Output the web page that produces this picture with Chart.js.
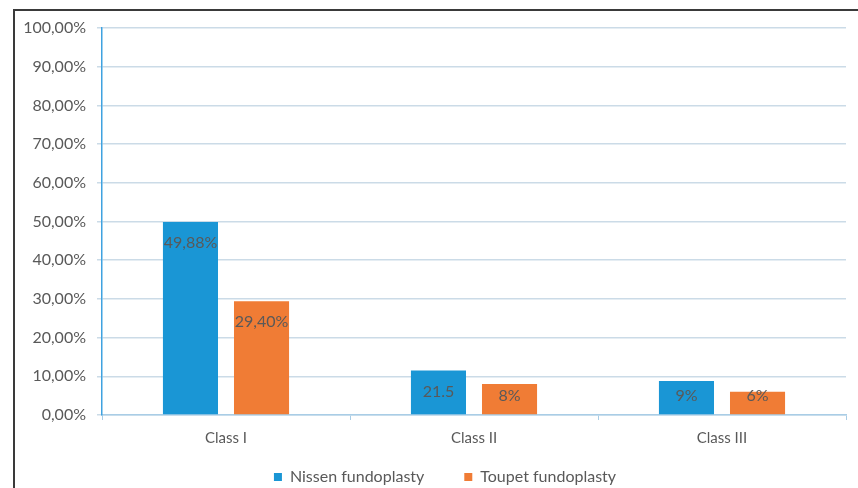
<!DOCTYPE html>
<html lang="en">
<head>
    <meta charset="UTF-8">
    <title>Nissen vs Toupet fundoplasty</title>
    <script src="https://cdn.jsdelivr.net/npm/chart.js"></script>
    <style>
        body {
            margin: 0;
            padding: 0;
            background: #fff;
        }
        .wrap {
            position: relative;
            width: 858px;
            height: 488px;
        }
        .frame {
            position: absolute;
            left: 13px;
            top: 9px;
            width: 860px;
            height: 490px;
            border-left: 2px solid #3a3a3a;
            border-top: 2px solid #3a3a3a;
            pointer-events: none;
        }
        canvas {
            position: absolute;
            left: 0;
            top: 0;
        }
    </style>
</head>
<body>

<div class="wrap">
    <canvas id="chart" width="858" height="488"></canvas>
    <div class="frame"></div>
</div>

<script>
    const categories = ["Class I", "Class II", "Class III"];
    const nissenValues = [49.88, 11.5, 8.8];
    const toupetValues = [29.4, 8, 6];
    // labels as printed on the bars in the original figure
    const nissenLabels = ["49,88%", "21.5", "9%"];
    const toupetLabels = ["29,40%", "8%", "6%"];
    const yTicks = [0, 10, 20, 30, 40, 50, 60, 70, 80, 90, 100];

    const textColor = "#595959";
    const fontFamily = "Lato, 'Open Sans', sans-serif";

    const barLabels = {
        id: "barLabels",
        afterDatasetsDraw(chart) {
            const ctx = chart.ctx;
            const sets = [nissenLabels, toupetLabels];
            ctx.save();
            ctx.font = "16px " + fontFamily;
            ctx.fillStyle = textColor;
            ctx.textAlign = "center";
            ctx.textBaseline = "middle";
            chart.data.datasets.forEach((ds, i) => {
                const meta = chart.getDatasetMeta(i);
                meta.data.forEach((bar, j) => {
                    const y = Math.min(bar.y + 21, bar.base - 18);
                    ctx.fillText(sets[i][j], bar.x, y);
                });
            });
            ctx.restore();
        }
    };

    // move the legend up and a bit right after layout, like in the original
    const legendShift = {
        id: "legendShift",
        afterLayout(chart) {
            const lg = chart.legend;
            if (!lg) return;
            lg.top -= 41;
            lg.bottom -= 41;
            lg.left += 22;
            lg.right += 22;
        }
    };

    const ctx = document.getElementById("chart").getContext("2d");
    new Chart(ctx, {
        type: "bar",
        data: {
            labels: categories,
            datasets: [{
                label: "Nissen fundoplasty",
                data: nissenValues,
                backgroundColor: "#1a96d5",
                categoryPercentage: 0.573,
                barPercentage: 0.775
            }, {
                label: "Toupet fundoplasty",
                data: toupetValues,
                backgroundColor: "#f07c35",
                categoryPercentage: 0.573,
                barPercentage: 0.775
            }]
        },
        options: {
            responsive: false,
            animation: false,
            layout: {
                padding: { left: 0, right: 12, top: 28, bottom: -48 }
            },
            plugins: {
                legend: {
                    position: "bottom",
                    labels: {
                        boxWidth: 8,
                        boxHeight: 8,
                        padding: 40,
                        color: textColor,
                        font: { size: 16, family: fontFamily }
                    }
                },
                tooltip: { enabled: false }
            },
            scales: {
                x: {
                    grid: {
                        display: true,
                        drawOnChartArea: false,
                        offset: true,
                        tickLength: 5,
                        color: "#a9cde6"
                    },
                    border: { color: "#a9cde6", width: 1.5 },
                    ticks: {
                        padding: 9,
                        color: textColor,
                        font: { size: 15, family: fontFamily }
                    },
                    afterFit(scale) { scale.height = 55; }
                },
                y: {
                    min: 0,
                    max: 100,
                    afterBuildTicks(scale) {
                        scale.ticks = yTicks.map(v => ({ value: v }));
                    },
                    grid: {
                        color: "#cbdbe7",
                        lineWidth: 1.5,
                        tickLength: 5
                    },
                    border: { color: "#3fa2e0", width: 1.5 },
                    ticks: {
                        padding: 11,
                        color: textColor,
                        font: { size: 16, family: fontFamily },
                        callback: v => v.toFixed(2).replace(".", ",") + "%"
                    },
                    afterFit(scale) { scale.width = 102; }
                }
            }
        },
        plugins: [barLabels, legendShift]
    });
</script>

</body>
</html>
